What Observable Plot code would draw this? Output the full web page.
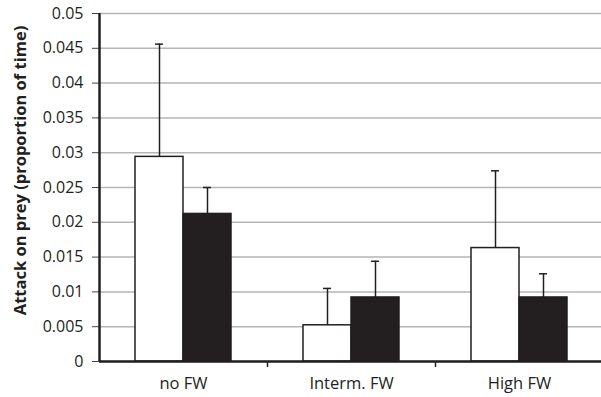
<!DOCTYPE html>
<html><head><meta charset="utf-8">
<script src="https://cdn.jsdelivr.net/npm/d3@7"></script>
<script src="https://cdn.jsdelivr.net/npm/@observablehq/plot@0.6"></script>
<style>body{margin:0;background:#fff;} svg{display:block;}</style>
</head><body><div id="chart"></div>
<script>
const groups = ["no FW", "Interm. FW", "High FW"];
const openMean = [0.0294, 0.0052, 0.0163];
const openUpper = [0.0456, 0.0105, 0.0274];
const filledMean = [0.0212, 0.0092, 0.0092];
const filledUpper = [0.0250, 0.0144, 0.0126];
const yTicks = [0, 0.005, 0.01, 0.015, 0.02, 0.025, 0.03, 0.035, 0.04, 0.045, 0.05];
const yLabel = "Attack on prey (proportion of time)";

const openRows = groups.map((g, i) => ({group: g, mean: openMean[i], upper: openUpper[i]}));
const filledRows = groups.map((g, i) => ({group: g, mean: filledMean[i], upper: filledUpper[i]}));

const ink = "#231f20";
const font = "'Open Sans', sans-serif";

const chart = Plot.plot({
  width: 601,
  height: 397,
  marginLeft: 99,
  marginRight: 0,
  marginTop: 13,
  marginBottom: 36,
  style: {fontFamily: font, fontSize: "16px", color: "#231f20", background: "#fff"},
  x: {domain: groups, range: [99, 603], padding: 0},
  y: {domain: [0, 0.05], range: [361, 13]},
  marks: [
    Plot.gridY(yTicks, {stroke: "#b5b5b5", strokeOpacity: 1, strokeWidth: 1.5}),
    Plot.axisY(yTicks, {tickSize: 7, tickPadding: 9, stroke: "#444", tickFormat: d => String(+d.toFixed(3)), fontSize: 16, label: null}),
    Plot.axisX({tickSize: 0, tickPadding: 16, fontSize: 16.5, label: null}),
    Plot.barY(openRows, {x: "group", y: "mean", fill: "white", stroke: ink, strokeWidth: 1.5, insetLeft: 36, insetRight: 84}),
    Plot.barY(filledRows, {x: "group", y: "mean", fill: ink, stroke: ink, strokeWidth: 1.5, insetLeft: 84, insetRight: 36}),
    Plot.ruleX(openRows, {x: "group", y1: "mean", y2: "upper", dx: -24, stroke: ink, strokeWidth: 1.5}),
    Plot.ruleX(filledRows, {x: "group", y1: "mean", y2: "upper", dx: 24, stroke: ink, strokeWidth: 1.5}),
    Plot.tickY(openRows, {x: "group", y: "upper", insetLeft: 56, insetRight: 104, stroke: ink, strokeWidth: 1.5}),
    Plot.tickY(filledRows, {x: "group", y: "upper", insetLeft: 104, insetRight: 56, stroke: ink, strokeWidth: 1.5}),
    Plot.ruleX(groups.slice(1), {x: d => d, y1: 0, y2: 0, dx: -84, insetTop: 0, insetBottom: -6, stroke: ink, strokeWidth: 1.5}),
    Plot.ruleY([0], {stroke: ink, strokeWidth: 2.5}),
    Plot.ruleX([groups[0]], {x: d => d, dx: -84, y1: 0, y2: 0.05, stroke: ink, strokeWidth: 2.5}),
    Plot.text([yLabel], {frameAnchor: "left", textAnchor: "middle", dx: -79, dy: -17, rotate: -90, text: d => d, fontWeight: "bold", fontSize: 16.5, fill: ink})
  ]
});
document.getElementById("chart").appendChild(chart);
</script>
</body></html>
